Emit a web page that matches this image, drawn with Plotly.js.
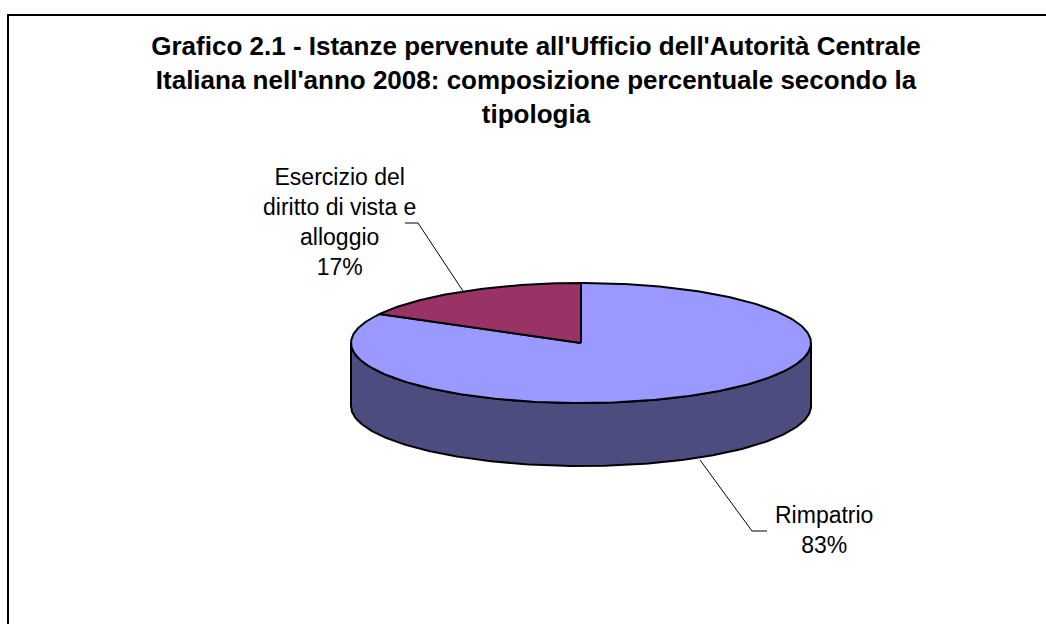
<!DOCTYPE html>
<html>
<head>
<meta charset="utf-8">
<script src="https://cdn.plot.ly/plotly-3.0.1.min.js"></script>
<style>
  html, body { margin: 0; padding: 0; background: #ffffff; }
  #chart { width: 1046px; height: 624px; }
</style>
</head>
<body>
<div id="chart"></div>
<script>
// ---- data ----
const categories = ["Rimpatrio", "Esercizio del diritto di vista e alloggio"];
const labelText = ["Rimpatrio", "Esercizio del<br>diritto di vista e<br>alloggio"];
const values = [83, 17];
const topColors = ["#9999ff", "#993366"];
const sideColors = ["#4c4c7f", "#4d1a33"];
const titleText = "Grafico 2.1 - Istanze pervenute all'Ufficio dell'Autorità Centrale<br>Italiana nell'anno 2008: composizione percentuale secondo la<br>tipologia";

// ---- geometry (pixel space: axes map 1:1 to pixels) ----
const CX = 581, CY = 343, RX = 230, RY = 60, DEPTH = 63;
const STEP = Math.PI / 180;

function pt(theta, dy) {
  return [CX + RX * Math.sin(theta), CY - RY * Math.cos(theta) + (dy || 0)];
}

const total = values.reduce((a, b) => a + b, 0);
const traces = [];

let start = 0;
const slices = values.map((v, i) => {
  const a0 = start, a1 = start + v / total * 2 * Math.PI;
  start = a1;
  return { a0, a1, i };
});

// side walls (front half only: theta between 90° and 270°)
slices.forEach(s => {
  const lo = Math.max(s.a0, Math.PI / 2), hi = Math.min(s.a1, 3 * Math.PI / 2);
  if (hi <= lo) return;
  const xs = [], ys = [];
  for (let t = lo; t < hi; t += STEP) { const p = pt(t, 0); xs.push(p[0]); ys.push(p[1]); }
  let p = pt(hi, 0); xs.push(p[0]); ys.push(p[1]);
  for (let t = hi; t > lo; t -= STEP) { const q = pt(t, DEPTH); xs.push(q[0]); ys.push(q[1]); }
  p = pt(lo, DEPTH); xs.push(p[0]); ys.push(p[1]);
  p = pt(lo, 0); xs.push(p[0]); ys.push(p[1]);
  traces.push({
    type: "scatter", mode: "lines", x: xs, y: ys, fill: "toself",
    fillcolor: sideColors[s.i], line: { color: "#000000", width: 2 },
    hoverinfo: "skip", showlegend: false
  });
});

// top faces
slices.forEach(s => {
  const xs = [CX], ys = [CY];
  for (let t = s.a0; t < s.a1; t += STEP) { const p = pt(t, 0); xs.push(p[0]); ys.push(p[1]); }
  const p = pt(s.a1, 0); xs.push(p[0]); ys.push(p[1]);
  xs.push(CX); ys.push(CY);
  traces.push({
    type: "scatter", mode: "lines", x: xs, y: ys, fill: "toself",
    fillcolor: topColors[s.i], line: { color: "#000000", width: 2 },
    hoverinfo: "skip", showlegend: false, name: categories[s.i]
  });
});

const pct = values.map(v => Math.round(v / total * 100) + "%");

const labelFont = { family: "Liberation Sans, Arial, sans-serif", size: 23, color: "#000000" };

const layout = {
  width: 1046, height: 624,
  margin: { l: 0, r: 0, t: 0, b: 0 },
  paper_bgcolor: "#ffffff", plot_bgcolor: "#ffffff",
  xaxis: { range: [0, 1046], visible: false, fixedrange: true },
  yaxis: { range: [624, 0], visible: false, fixedrange: true },
  showlegend: false,
  hovermode: false,
  title: {
    text: titleText,
    font: { family: "Liberation Sans, Arial, sans-serif", size: 26, color: "#000000", weight: "bold" },
    x: 536 / 1046, xanchor: "center", xref: "paper",
    y: 1 - 55 / 624, yanchor: "middle", yref: "paper"
  },
  shapes: [
    // chart frame (left and top edges visible)
    { type: "path", xref: "x", yref: "y", path: "M 8 640 L 8 15 L 1060 15",
      line: { color: "#000000", width: 2 } },
    // leader line: Esercizio
    { type: "path", xref: "x", yref: "y", path: "M 405 223 L 418 223 L 463 291",
      line: { color: "#000000", width: 1 } },
    // leader line: Rimpatrio
    { type: "path", xref: "x", yref: "y", path: "M 700 460 L 752 531 L 767 531",
      line: { color: "#000000", width: 1 } }
  ],
  annotations: [
    { x: 339, y: 222, xref: "x", yref: "y", text: labelText[1] + "<br>" + pct[1],
      showarrow: false, font: labelFont, align: "center", xanchor: "center", yanchor: "middle" },
    { x: 824, y: 530, xref: "x", yref: "y", text: labelText[0] + "<br>" + pct[0],
      showarrow: false, font: labelFont, align: "center", xanchor: "center", yanchor: "middle" }
  ]
};

Plotly.newPlot("chart", traces, layout, { staticPlot: true, displayModeBar: false });
</script>
</body>
</html>
